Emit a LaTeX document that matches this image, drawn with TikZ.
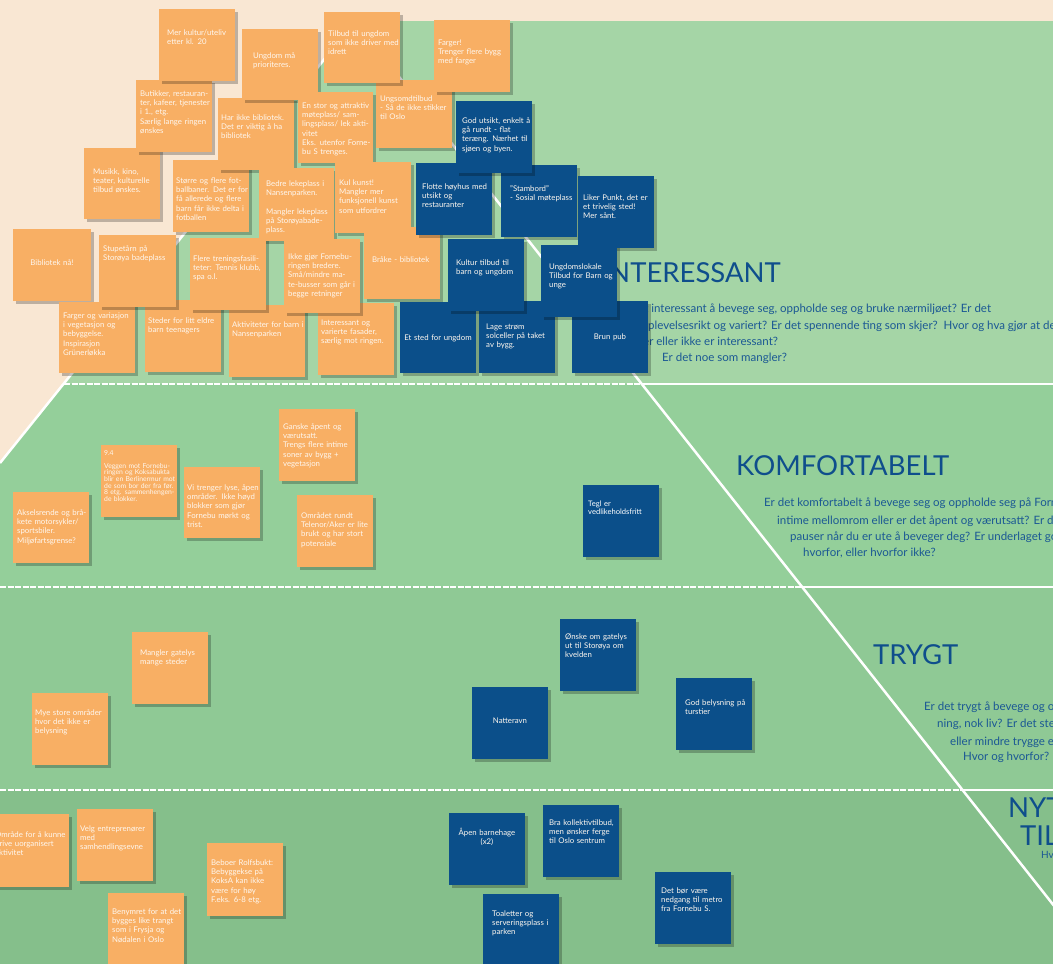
\documentclass[tikz,border=0pt]{standalone}
\usepackage{fontspec}
\setmainfont{Lato}
\usetikzlibrary{shadows}
\definecolor{beige}{HTML}{F9E7D3}
\definecolor{bandA}{HTML}{A5D5A6}
\definecolor{bandB}{HTML}{94CF9A}
\definecolor{bandC}{HTML}{8FC995}
\definecolor{bandD}{HTML}{85BF8B}
\definecolor{noteor}{HTML}{F8AF64}
\definecolor{noteblue}{HTML}{0B4F8A}
\definecolor{titleblue}{HTML}{0F4E8C}
\definecolor{parablue}{HTML}{1B5894}
\tikzset{
  note/.style={rectangle, inner sep=0pt, outer sep=0pt,
    general shadow={fill=black, opacity=0.24, shadow xshift=3pt, shadow yshift=-3pt}},
  onote/.style={note, fill=noteor},
  bnote/.style={note, fill=noteblue},
  ntxt/.style={inner sep=0pt, text width=90pt, align=left,
    font=\fontsize{7.8}{9.2}\selectfont, text=white!90!noteor},
  sepline/.style={white, line width=2.5pt},
  sepdash/.style={white, line width=2.5pt, dash pattern=on 6pt off 1.5pt},
  ttl/.style={inner sep=0pt, font=\fontsize{27.5}{30}\selectfont, text=titleblue},
  para/.style={inner sep=0pt, font=\fontsize{11.5}{14}\selectfont, text=parablue},
}
% #1 name, #2 style, #3 x, #4 y, #5 w, #6 h, #7 text x, #8 first line y, #9 text
\newcommand\stick[9]{%
  \node[#2, minimum width=#5, minimum height=#6, anchor=north west] (#1) at (#3,#4) {};
  \node[ntxt, anchor=base west] (#1t) at (#7,{#8+2.5}) {#9};}
\newcommand\stickc[9]{%
  \node[#2, minimum width=#5, minimum height=#6, anchor=north west] (#1) at (#3,#4) {};
  \node[ntxt, text width=76pt, align=center, anchor=base] (#1t) at (#7,{#8+2.5}) {#9};}
\begin{document}
\begin{tikzpicture}[x=1pt, y=-1pt]
\useasboundingbox (0,0) rectangle (1053,964);
\clip (0,0) rectangle (1053,964);
% background
\fill[beige] (0,0) rectangle (1053,964);
\coordinate (apex) at (355,21);
\coordinate (lb) at (0,463);
\coordinate (rb) at (1100,964);
\begin{scope}
\clip (apex) -- (1053,21) -- (1053,964) -- (0,964) -- (lb) -- cycle;
\fill[bandA] (0,21) rectangle (1053,384);
\fill[bandB] (0,384) rectangle (1053,587);
\fill[bandC] (0,587) rectangle (1053,790);
\fill[bandD] (0,790) rectangle (1053,964);
\end{scope}
\coordinate (s1l) at (64,384);  \coordinate (s1m) at (641,384); \coordinate (s1r) at (1053,384);
\coordinate (s2l) at (0,587);   \coordinate (s2m) at (801,587); \coordinate (s2r) at (1053,587);
\coordinate (s3l) at (0,790);   \coordinate (s3m) at (962,790); \coordinate (s3r) at (1053,790);
\draw[sepdash] (s1l) -- (s1m); \draw[sepline] (s1m) -- (s1r);
\draw[sepdash] (s2l) -- (s2m); \draw[sepline] (s2m) -- (s2r);
\draw[sepdash] (s3l) -- (s3m); \draw[sepline] (s3m) -- (s3r);
\draw[sepline] (apex) -- (lb);
\draw[sepline] (apex) -- (rb);
% titles and questions
\node[ttl, anchor=base east] (tint) at (781,282) {INTERESSANT};
\node[para, anchor=base west] (pi1) at (618,312) {Er det interessant å bevege seg, oppholde seg og bruke nærmiljøet? Er det};
\node[para, anchor=base west] (pi2) at (635,329) {opplevelsesrikt og variert? Er det spennende ting som skjer?\ \ Hvor og hva gjør at det};
\node[para, anchor=base west] (pi3) at (643,345) {er eller ikke er interessant?};
\node[para, anchor=base west] (pi4) at (662,361) {Er det noe som mangler?};
\node[ttl, anchor=base west] (tkom) at (736,475) {KOMFORTABELT};
\node[para, anchor=base west] (pk1) at (764,506) {Er det komfortabelt å bevege seg og oppholde seg på Forn};
\node[para, anchor=base west] (pk2) at (777,524) {intime mellomrom eller er det åpent og værutsatt? Er de};
\node[para, anchor=base west] (pk3) at (790,540) {pauser når du er ute å beveger deg? Er underlaget go};
\node[para, anchor=base west] (pk4) at (803,556) {hvorfor, eller hvorfor ikke?};
\node[ttl, anchor=base west] (ttry) at (873,664) {TRYGT};
\node[para, anchor=base west] (pt1) at (924,710) {Er det trygt å bevege og o};
\node[para, anchor=base west] (pt2) at (937,727) {ning, nok liv? Er det ste};
\node[para, anchor=base west] (pt3) at (950,745) {eller mindre trygge e};
\node[para, anchor=base west] (pt4) at (963,760) {Hvor og hvorfor?};
\node[ttl, anchor=base west] (tnyt) at (1008,817) {NYT};
\node[ttl, anchor=base west] (ttil) at (1020,845) {TIL};
\node[para, anchor=base west, font=\fontsize{10}{12}\selectfont] (thv) at (1041,858) {Hv};
% ---- band 1: orange notes
\stick{n9}{onote}{84}{148}{76}{71}{93}{172}{Musikk, kino,\\teater, kulturelle\\tilbud ønskes.}
\stick{n5}{onote}{136}{80}{76}{72}{140}{94}{Butikker, restauran-\\ter, kafeer, tjenester\\i 1., etg.\\Særlig lange ringen\\ønskes}
\stick{n1}{onote}{159}{9}{76}{72}{167}{33}{Mer kultur/uteliv\\etter kl. 20}
\stick{n10}{onote}{173}{160}{76}{72}{176}{181}{Større og flere fot-\\ballbaner. Det er for\\få allerede og flere\\barn får ikke delta i\\fotballen}
\stick{n6}{onote}{218}{98}{76}{72}{221}{118}{Har ikke bibliotek.\\Det er viktig å ha\\bibliotek}
\stick{n2}{onote}{242}{29}{76}{71}{253}{56}{Ungdom må\\prioriteres.}
\stick{n7}{onote}{298}{92}{75}{71}{302}{106}{En stor og attraktiv\\møteplass/ sam-\\lingsplass/ lek akti-\\vitet\\Eks. utenfor Forne-\\bu S trenges.}
\stick{n8}{onote}{376}{80}{76}{68}{380}{99}{Ungsomdtilbud\\- Så de ikke stikker\\til Oslo}
\stick{n3}{onote}{324}{12}{76}{71}{328}{34}{Tilbud til ungdom\\som ikke driver med\\idrett}
\stick{n4}{onote}{434}{20}{76}{72}{438}{43}{Farger!\\Trenger flere bygg\\med farger}
\stick{n11}{onote}{259}{168}{75}{73}{266}{184}{Bedre lekeplass i\\Nansenparken.\\[9.2pt]Mangler lekeplass\\på Storøyabade-\\plass.}
\stick{n12}{onote}{335}{162}{76}{71}{339}{183}{Kul kunst!\\Mangler mer\\funksjonell kunst\\som utfordrer}
\stickc{n13}{onote}{13}{229}{78}{72}{52}{263}{Bibliotek nå!}
\stick{n18}{onote}{59}{302}{76}{71}{63}{316}{Farger og variasjon\\i vegetasjon og\\bebyggelse.\\Inspirasjon\\Grünerløkka}
\stick{n19}{onote}{145}{300}{76}{72}{148}{321}{Steder for litt eldre\\barn teenagers}
\stick{n14}{onote}{99}{235}{77}{72}{103}{249}{Stupetårn på\\Storøya badeplass}
\stick{n20}{onote}{229}{305}{76}{72}{232}{325}{Aktiviteter for barn i\\Nansenparken}
\stick{n21}{onote}{318}{303}{76}{72}{321}{323}{Interessant og\\varierte fasader,\\særlig mot ringen.}
\stick{n16}{onote}{284}{239}{76}{74}{288}{257}{Ikke gjør Fornebu-\\ringen bredere.\\Små/mindre ma-\\te-busser som går i\\begge retninger}
\stick{n15}{onote}{190}{238}{76}{72}{193}{259}{Flere treningsfasili-\\teter: Tennis klubb,\\spa o.l.}
\stick{n17}{onote}{364}{227}{76}{72}{372}{260}{Bråke - bibliotek}
% ---- band 1: blue notes
\stick{n24}{bnote}{416}{163}{76}{72}{422}{187}{Flotte høyhus med\\utsikt og\\restauranter}
\stick{n25}{bnote}{501}{165}{76}{72}{510}{189}{"Stambord"\\- Sosial møteplass}
\stick{n23}{bnote}{456}{101}{76}{72}{462}{121}{God utsikt, enkelt å\\gå rundt - flat\\teræng. Nærhet til\\sjøen og byen.}
\stick{n26}{bnote}{578}{176}{76}{72}{583}{198}{Liker Punkt, det er\\et trivelig sted!\\Mer sånt.}
\stickc{n31}{bnote}{572}{301}{76}{72}{610}{337}{Brun pub}
\stick{n30}{bnote}{479}{301}{76}{72}{486}{327}{Lage strøm\\solceller på taket\\av bygg.}
\stickc{n22}{bnote}{400}{302}{76}{71}{438}{338}{Et sted for ungdom}
\stick{n27}{bnote}{448}{239}{76}{72}{456}{263}{Kultur tilbud til\\barn og ungdom}
\stick{n28}{bnote}{541}{245}{76}{72}{549}{267}{Ungdomslokale\\Tilbud for Barn og\\unge}
% ---- band 2
\stick{n32}{onote}{13}{492}{76}{71}{17}{513}{Akselsrende og brå-\\kete motorsykler/\\sportsbiler.\\Miljøfartsgrense?}
\node[onote, minimum width=76, minimum height=72, anchor=north west] (n33) at (101,445) {};
\node[ntxt, anchor=base west, font=\fontsize{6.8}{6.6}\selectfont] (n33t) at (104,455) {9.4\\[6.6pt]Veggen mot Fornebu-\\ringen og Koksabukta\\blir en Berlinermur mot\\de som bor der fra før.\\8 etg. sammenhengen-\\de blokker.};
\stick{n34}{onote}{184}{467}{76}{71}{187}{488}{Vi trenger lyse, åpen\\områder. Ikke høyd\\blokker som gjør\\Fornebu mørkt og\\trist.}
\stick{n35}{onote}{279}{409}{76}{72}{283}{427}{Ganske åpent og\\værutsatt.\\Trengs flere intime\\soner av bygg +\\vegetasjon}
\stick{n36}{onote}{297}{495}{76}{72}{301}{516}{Området rundt\\Telenor/Aker er lite\\brukt og har stort\\potensiale}
\node[bnote, minimum width=76, minimum height=72, anchor=north west] (n37) at (583,485) {};
\node[ntxt, anchor=base west, text=white, font=\fontsize{7.6}{8.4}\selectfont] (n37t) at (588,506) {Tegl er\\vedlikeholdsfritt};
% ---- band 3
\stick{n38}{onote}{132}{632}{76}{72}{140}{653}{Mangler gatelys\\mange steder}
\stick{n39}{onote}{32}{693}{76}{72}{35}{713}{Mye store områder\\hvor det ikke er\\belysning}
\stick{n40}{bnote}{560}{619}{76}{72}{565}{637}{Ønske om gatelys\\ut til Storøya om\\kvelden}
\stickc{n41}{bnote}{472}{687}{76}{72}{510}{721}{Natteravn}
\stick{n42}{bnote}{676}{678}{76}{72}{685}{703}{God belysning på\\turstier}
% ---- band 4
\stick{n47}{onote}{-8}{814}{77}{73}{-5}{835}{Område for å kunne\\drive uorganisert\\aktivitet}
\stick{n48}{onote}{77}{809}{76}{72}{80}{829}{Velg entreprenører\\med\\samhendlingsevne}
\stick{n49}{onote}{207}{843}{76}{73}{211}{863}{Beboer Rolfsbukt:\\Bebyggekse på\\KoksA kan ikke\\være for høy\\F.eks. 6-8 etg.}
\stick{n50}{onote}{108}{893}{76}{75}{112}{912}{Benymret for at det\\bygges like trangt\\som i Frysja og\\Nødalen i Oslo}
\stickc{n43}{bnote}{449}{813}{76}{72}{487}{833}{Åpen barnehage\\(x2)}
\stick{n44}{bnote}{543}{805}{76}{72}{549}{823}{Bra kollektivtilbud,\\men ønsker ferge\\til Oslo sentrum}
\stick{n45}{bnote}{483}{894}{76}{72}{492}{914}{Toaletter og\\serveringsplass i\\parken}
\stick{n46}{bnote}{655}{872}{76}{72}{661}{891}{Det bør være\\nedgang til metro\\fra Fornebu S.}
\end{tikzpicture}
\end{document}
